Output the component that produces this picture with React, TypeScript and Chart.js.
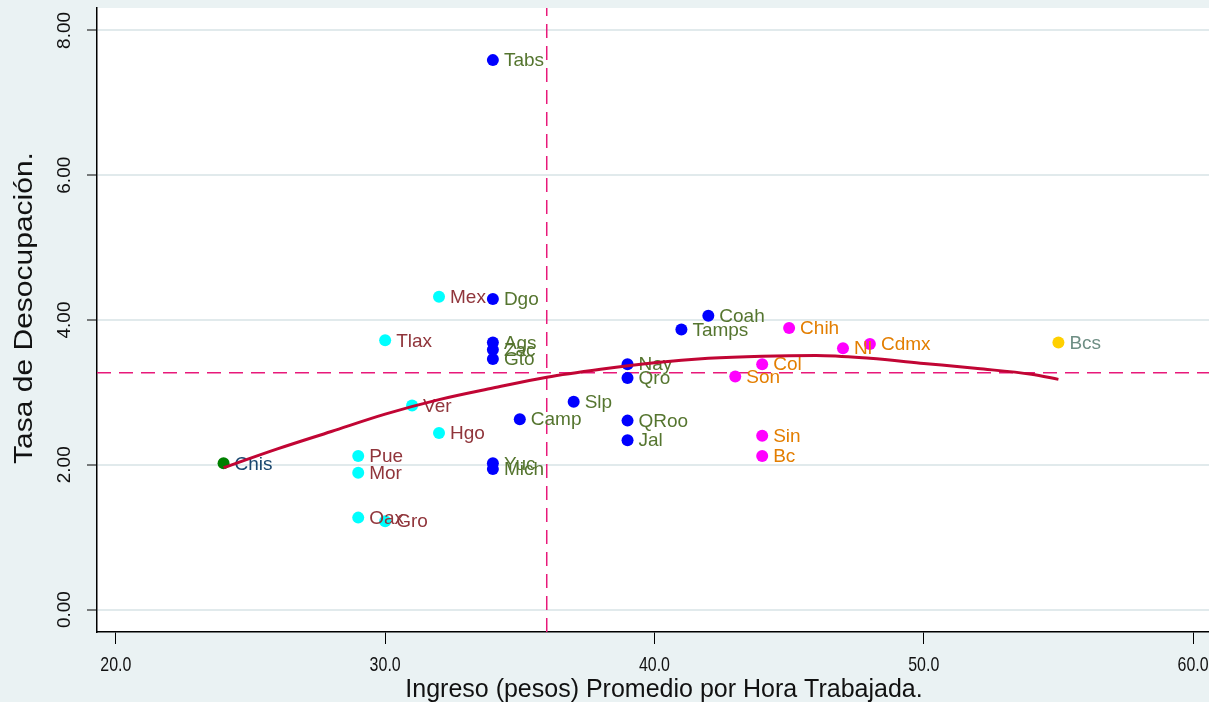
import React, { useEffect, useRef } from "react";
import { Chart, registerables } from "chart.js";

Chart.register(...registerables);

// ---------- data ----------
const X_TICKS = [20, 30, 40, 50, 60];
const Y_TICKS = [0, 2, 4, 6, 8];

// group 1: cyan markers, maroon labels
const g1Names = ["Mex", "Tlax", "Ver", "Hgo", "Pue", "Mor", "Oax", "Gro"];
const g1Income = [32, 30, 31, 32, 29, 29, 29, 30];
const g1Unemp = [4.32, 3.72, 2.82, 2.44, 2.12, 1.89, 1.27, 1.22];

// group 2: blue markers, green labels
const g2Names = ["Tabs", "Dgo", "Ags", "Zac", "Gto", "Camp", "Slp", "Yuc", "Mich", "Nay", "Qro", "QRoo", "Jal", "Coah", "Tamps"];
const g2Income = [34, 34, 34, 34, 34, 35, 37, 34, 34, 39, 39, 39, 39, 42, 41];
const g2Unemp = [7.59, 4.29, 3.69, 3.59, 3.46, 2.63, 2.87, 2.02, 1.94, 3.39, 3.20, 2.61, 2.34, 4.06, 3.87];

// group 3: magenta markers, orange labels
const g3Names = ["Chih", "Nl", "Cdmx", "Col", "Son", "Sin", "Bc"];
const g3Income = [45, 47, 48, 44, 43, 44, 44];
const g3Unemp = [3.89, 3.61, 3.67, 3.39, 3.22, 2.40, 2.12];

// group 4: green marker, navy label
const g4Names = ["Chis"];
const g4Income = [24];
const g4Unemp = [2.02];

// group 5: gold marker, teal label
const g5Names = ["Bcs"];
const g5Income = [55];
const g5Unemp = [3.69];

// fitted curve
const fitX = [24, 26, 28, 30, 32, 34, 36, 38, 40, 42, 44, 46, 48, 50, 52, 54, 55];
const fitY = [1.96, 2.22, 2.46, 2.70, 2.90, 3.06, 3.21, 3.32, 3.41, 3.47, 3.50, 3.51, 3.47, 3.40, 3.33, 3.25, 3.18];

// reference lines
const refX = 36;
const refY = 3.27;

const X_TITLE = "Ingreso (pesos) Promedio por Hora Trabajada.";
const Y_TITLE = "Tasa de Desocupación.";

const FONT = '"Liberation Sans", Arial, Helvetica, sans-serif';

const toPts = (xs: number[], ys: number[]) => xs.map((x, i) => ({ x, y: ys[i] }));

export default function App() {
  const ref = useRef<HTMLCanvasElement | null>(null);

  useEffect(() => {
    const canvas = ref.current;
    if (!canvas) return;

    const X_MIN = 19.3, X_MAX = 61, Y_MIN = -0.31, Y_MAX = 8.31;

    const scatter = (names: string[], xs: number[], ys: number[], marker: string, labelColor: string) => ({
      type: "scatter" as const,
      data: toPts(xs, ys),
      pointRadius: 6,
      pointBorderWidth: 0,
      pointBackgroundColor: marker,
      backgroundColor: marker,
      borderColor: marker,
      showLine: false,
      order: 2,
      names,
      labelColor,
    });

    const bgPlugin = {
      id: "bg",
      beforeDraw(chart: any) {
        const { ctx, chartArea: a, width, height } = chart;
        ctx.save();
        ctx.fillStyle = "#EAF2F3";
        ctx.fillRect(0, 0, width, height);
        ctx.fillStyle = "#FFFFFF";
        ctx.fillRect(a.left, a.top, a.right - a.left, a.bottom - a.top);
        ctx.restore();
      },
    };

    const labelPlugin = {
      id: "pointLabels",
      afterDatasetDraw(chart: any, args: any) {
        const ds: any = chart.data.datasets[args.index];
        if (!ds.names) return;
        const meta = chart.getDatasetMeta(args.index);
        const ctx = chart.ctx;
        ctx.save();
        ctx.font = `19px ${FONT}`;
        ctx.fillStyle = ds.labelColor;
        ctx.textAlign = "left";
        ctx.textBaseline = "middle";
        meta.data.forEach((el: any, i: number) => {
          ctx.fillText(ds.names[i], el.x + 11, el.y + 1);
        });
        ctx.restore();
      },
    };

    const axisTextPlugin = {
      id: "axisText",
      afterDraw(chart: any) {
        const ctx = chart.ctx;
        const xs = chart.scales.x;
        const ys = chart.scales.y;
        ctx.save();
        ctx.fillStyle = "#111";
        // y tick labels (rotated)
        ctx.font = `19px ${FONT}`;
        ctx.textAlign = "center";
        ctx.textBaseline = "middle";
        Y_TICKS.forEach((v) => {
          const py = ys.getPixelForValue(v);
          ctx.save();
          ctx.translate(65, py);
          ctx.rotate(-Math.PI / 2);
          ctx.fillText(v.toFixed(2), 0, 0);
          ctx.restore();
        });
        // x tick labels
        ctx.font = `21px ${FONT}`;
        X_TICKS.forEach((v) => {
          const px = xs.getPixelForValue(v);
          ctx.save();
          ctx.translate(px, 665);
          ctx.scale(0.76, 1);
          ctx.fillText(v.toFixed(1), 0, 0);
          ctx.restore();
        });
        // x title
        ctx.save();
        ctx.font = `25px ${FONT}`;
        ctx.translate(664, 690);
        ctx.fillText(X_TITLE, 0, 0);
        ctx.restore();
        // y title
        ctx.save();
        ctx.font = `25px ${FONT}`;
        ctx.translate(25, 308);
        ctx.rotate(-Math.PI / 2);
        ctx.scale(1.2, 1);
        ctx.fillText(Y_TITLE, 0, 0);
        ctx.restore();
        ctx.restore();
      },
    };

    const chart = new Chart(canvas, {
      type: "scatter",
      data: {
        datasets: [
          {
            type: "line",
            data: toPts(fitX, fitY),
            borderColor: "#C10534",
            borderWidth: 3,
            pointRadius: 0,
            fill: false,
            cubicInterpolationMode: "monotone",
            order: 0,
          } as any,
          scatter(g1Names, g1Income, g1Unemp, "#00FFFF", "#90353B") as any,
          scatter(g2Names, g2Income, g2Unemp, "#0000FF", "#55752F") as any,
          scatter(g3Names, g3Income, g3Unemp, "#FF00FF", "#E37E00") as any,
          scatter(g4Names, g4Income, g4Unemp, "#008000", "#1A476F") as any,
          scatter(g5Names, g5Income, g5Unemp, "#FFD000", "#6E8E84") as any,
          {
            type: "line",
            data: [{ x: refX, y: Y_MIN }, { x: refX, y: Y_MAX }],
            borderColor: "#E8197A",
            borderWidth: 1.5,
            borderDash: [14, 8],
            pointRadius: 0,
            fill: false,
            order: 3,
          } as any,
          {
            type: "line",
            data: [{ x: X_MIN, y: refY }, { x: X_MAX, y: refY }],
            borderColor: "#E8197A",
            borderWidth: 1.5,
            borderDash: [14, 8],
            pointRadius: 0,
            fill: false,
            order: 3,
          } as any,
        ],
      },
      options: {
        animation: false,
        responsive: false,
        maintainAspectRatio: false,
        devicePixelRatio: 1,
        layout: { padding: { top: 8, right: 20, left: 0, bottom: 0 } },
        plugins: { legend: { display: false }, tooltip: { enabled: false } },
        scales: {
          x: {
            type: "linear",
            min: X_MIN,
            max: X_MAX,
            afterBuildTicks: (s: any) => {
              s.ticks = X_TICKS.map((v) => ({ value: v }));
            },
            afterFit: (s: any) => {
              s.height = 70;
            },
            border: { display: true, color: "#000", width: 1.5 },
            grid: { drawOnChartArea: false, drawTicks: true, tickLength: 12, tickColor: "#000", tickWidth: 1 },
            ticks: { display: false },
          },
          y: {
            type: "linear",
            min: Y_MIN,
            max: Y_MAX,
            afterBuildTicks: (s: any) => {
              s.ticks = Y_TICKS.map((v) => ({ value: v }));
            },
            afterFit: (s: any) => {
              s.width = 97;
            },
            border: { display: true, color: "#000", width: 1.5 },
            grid: { color: "#E1EAEC", lineWidth: 2, drawTicks: true, tickLength: 10, tickColor: "#000", tickWidth: 1 },
            ticks: { display: false },
          },
        },
      } as any,
      plugins: [bgPlugin, labelPlugin, axisTextPlugin],
    });

    return () => chart.destroy();
  }, []);

  return (
    <div style={{ position: "fixed", left: 0, top: 0, width: 1240, height: 702 }}>
      <canvas ref={ref} width={1240} height={702} style={{ display: "block", width: 1240, height: 702 }} />
    </div>
  );
}
